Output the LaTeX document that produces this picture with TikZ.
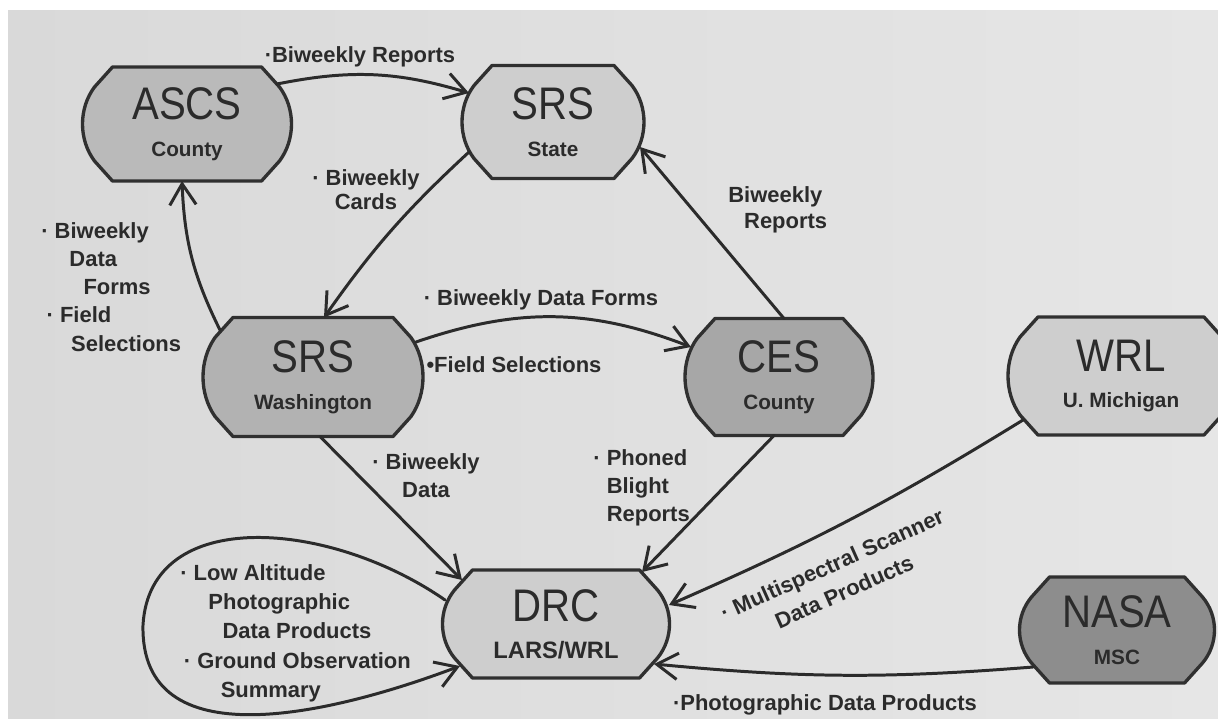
\documentclass[tikz,border=0pt]{standalone}
\usepackage{fontspec}
\setmainfont{Liberation Sans}
\usepackage{graphicx}
\usetikzlibrary{arrows.meta,calc}

\definecolor{paperL}{HTML}{D9D9D9}
\definecolor{paperR}{HTML}{E6E6E6}
\definecolor{ink}{HTML}{2B2B2B}
\definecolor{rim}{HTML}{303030}
\definecolor{boxA}{HTML}{BABABA}
\definecolor{boxB}{HTML}{CECECE}
\definecolor{boxC}{HTML}{B2B2B2}
\definecolor{boxD}{HTML}{A7A7A7}
\definecolor{boxE}{HTML}{8D8D8D}

% big office name over a small place name
\newcommand{\ttl}[1]{{\fontsize{26}{21}\selectfont\mdseries\scalebox{0.88}[1]{#1}}}

% station: name, centre, half width, half height, fill, title, place
\newcommand{\station}[7]{%
  \filldraw[fill=#5, draw=rim, line width=1.9pt, line join=round, shift={(#2)}]
    (-#3+30,-#4) -- (#3-30,-#4) -- (#3-12,-#4+20)
    .. controls (#3+4,-0.42*#4+8.4) and (#3+4,0.42*#4-8.4) .. (#3-12,#4-20)
    -- (#3-30,#4) -- (-#3+30,#4) -- (-#3+12,#4-20)
    .. controls (-#3-4,0.42*#4-8.4) and (-#3-4,-0.42*#4+8.4) .. (-#3+12,-#4+20)
    -- cycle;
  \node[station, minimum width={2*#3*0.02cm}, minimum height={2*#4*0.02cm}]
    (#1) at (#2) {\ttl{#6}\\#7};}

\begin{document}
\begin{tikzpicture}[x=0.02cm, y=-0.02cm,
    station/.style={inner sep=0pt, align=center, text=ink,
      font=\fontsize{11.8}{21}\selectfont\bfseries},
    lbl/.style={inner sep=0pt, text=ink,
      font=\fontsize{12.5}{16}\selectfont\bfseries},
    flow/.style={draw=ink, line width=1.7pt, line cap=round,
      -{Straight Barb[length=12pt,width=15pt]}}]
  \useasboundingbox (0,0) rectangle (1218,725);
  \fill[white] (0,0) rectangle (1218,725);
  \shade[left color=paperL, right color=paperR] (8,10) rectangle (1218,718);

  % offices
  \station{ascs}{187,124}{104.5}{57}{boxA}{ASCS}{County}
  \station{state}{553,122}{91}{56.5}{boxB}{SRS}{State}
  \station{wash}{313,377}{110}{59.5}{boxC}{SRS}{Washington}
  \station{ces}{779,377}{94}{58.5}{boxD}{CES}{County}
  \station{wrl}{1121,376}{113}{59}{boxB}{WRL}{U. Michigan}
  \station{drc}{556,624}{113.5}{54}{boxB}{DRC}{\fontsize{13.5}{21}\selectfont LARS/WRL}
  \station{nasa}{1117,630}{97.5}{53}{boxE}{NASA}{MSC}

  % data flows
  \draw[flow] ($(ascs)+(90,-40)$) to[bend left=14] ($(state)+(-84,-29)$);
  \draw[flow] ($(state)+(-84,30)$) to[bend right=6] ($(wash)+(11,-59.5)$);
  \draw[flow] ($(wash)+(-93,-47)$) to[bend left=12] ($(ascs)+(-5,57)$);
  \draw[flow] ($(wash)+(103,-35)$) to[bend left=20] ($(ces)+(-88,-30)$);
  \draw[flow] ($(ces)+(5,-58.5)$) -- ($(state)+(87,25)$);
  \draw[flow] ($(wash)+(7,59.5)$) -- ($(drc)+(-94,-44)$);
  \draw[flow] ($(ces)+(-5,58.5)$) -- ($(drc)+(86,-52)$);
  \draw[flow] ($(wrl)+(-98,44)$) to[bend left=4] ($(drc)+(113,-19)$);
  \draw[flow] ($(nasa)+(-84,37)$) to[bend left=5] ($(drc)+(98,40)$);
  \coordinate (loopw) at (143,625);
  \draw[flow] ($(drc)+(-111,-24)$) .. controls (330,520) and (150,505) .. (loopw)
    .. controls (140,760) and (330,715) .. ($(drc)+(-96,42)$);

  % labels
  \node[lbl] (rep1) at (360,57) {·Biweekly Reports};
  \node[lbl, align=center, font=\fontsize{12.5}{13.6}\selectfont\bfseries] (cards) at (366,190) {· Biweekly\\Cards};
  \node[lbl, align=left, anchor=west] (forms1) at (41,287)
    {· Biweekly\\\hspace*{16pt}Data\\\hspace*{24pt}Forms\\\hspace*{3pt}· Field\\\hspace*{17pt}Selections};
  \node[lbl] (forms2) at (541,300) {· Biweekly Data Forms};
  \node[lbl] (fields) at (514,365) {•Field Selections};
  \node[lbl, align=left, anchor=west, font=\fontsize{12.5}{14.7}\selectfont\bfseries] (rep2) at (728,210)
    {Biweekly\\\hspace*{9pt}Reports};
  \node[lbl, align=center] (data) at (426,476) {· Biweekly\\Data};
  \node[lbl, align=left, anchor=west] (blight) at (593,488)
    {· Phoned\\\phantom{· }Blight\\\phantom{· }Reports};
  \node[lbl, align=center, rotate=24, font=\fontsize{12.5}{17}\selectfont\bfseries] (scanner) at (838,578)
    {· Multispectral Scanner\\Data Products};
  \node[lbl] (photo) at (825,705) {·Photographic Data Products};
  \node[lbl, align=left, anchor=west, font=\fontsize{12.5}{16.7}\selectfont\bfseries] (lowalt) at (180,633)
    {· Low Altitude\\\hspace*{16pt}Photographic\\\hspace*{24pt}Data Products\\\hspace*{2pt}· Ground Observation\\\hspace*{23pt}Summary};
\end{tikzpicture}
\end{document}
